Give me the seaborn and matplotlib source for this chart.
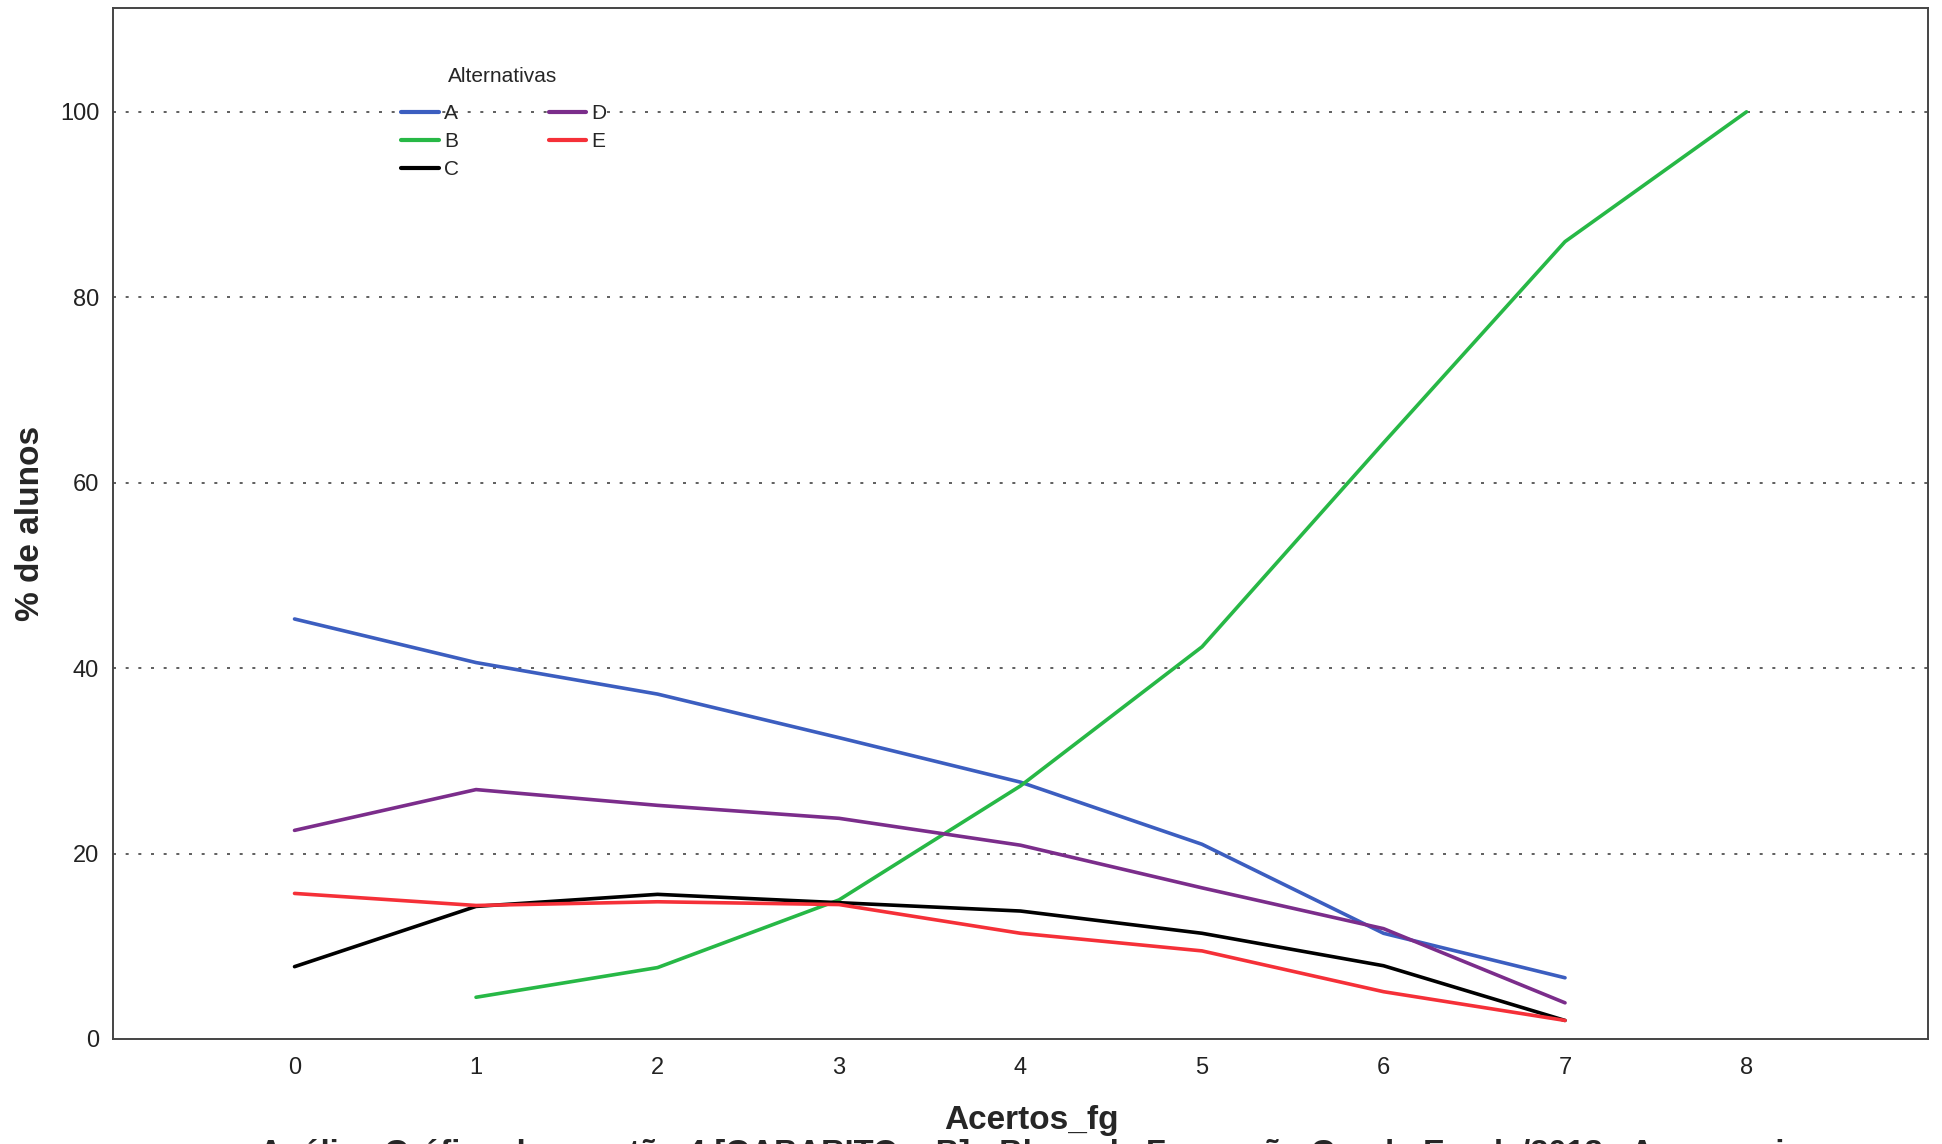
import pandas as pd
import matplotlib
matplotlib.use('Agg')
import matplotlib.pyplot as plt
import seaborn as sns

sns.set_style('white')
plt.rcParams['font.family'] = ['Liberation Sans', 'DejaVu Sans']

# Dados (% de alunos por número de acertos)
acertos = [0, 1, 2, 3, 4, 5, 6, 7, 8]
alt_a = [45.3, 40.6, 37.2, 32.5, 27.7, 21.0, 11.4, 6.6, None]
alt_b = [None, 4.5, 7.7, 15.0, 27.3, 42.3, 64.3, 86.0, 100.0]
alt_c = [7.8, 14.3, 15.6, 14.7, 13.8, 11.4, 7.9, 2.0, None]
alt_d = [22.5, 26.9, 25.2, 23.8, 20.9, 16.3, 11.9, 3.9, None]
alt_e = [15.7, 14.4, 14.8, 14.5, 11.4, 9.5, 5.1, 2.0, None]

alternativas = ['A', 'B', 'C', 'D', 'E']
cores = ['#3c5ec0', '#27b846', '#000000', '#7b2d8b', '#f53038']
yticks = [0, 20, 40, 60, 80, 100]

titulo = 'Análise Gráfica da questão 4 [GABARITO = B] - Bloco de Formação Geral - Enade/2018 - Agronomia'

# Monta tabela longa para o seaborn (ignora pontos sem valor)
rows = []
for alt, serie in zip(alternativas, [alt_a, alt_b, alt_c, alt_d, alt_e]):
    for x, v in zip(acertos, serie):
        if v is not None:
            rows.append({'Acertos_fg': x, 'pct': v, 'Alternativas': alt})
df = pd.DataFrame(rows)

fig = plt.figure(figsize=(19.42, 11.44), dpi=100)
ax = fig.add_axes([0.0582, 0.0918, 0.9346, 0.9012])

# Linhas de grade pontilhadas
for y in yticks[1:]:
    ax.axhline(y, color='#444444', lw=1.2, ls=(0, (1.8, 5.8)), zorder=0)

sns.lineplot(data=df, x='Acertos_fg', y='pct', hue='Alternativas',
             hue_order=alternativas, palette=dict(zip(alternativas, cores)),
             linewidth=2.6, errorbar=None, ax=ax)

ax.set_xlim(-1, 9)
ax.set_ylim(0, 111.2)
ax.set_xticks(acertos)
ax.set_yticks(yticks)
ax.tick_params(axis='both', direction='out', length=9, width=1.2,
               color='#333333', labelsize=17, labelcolor='#222222')
ax.tick_params(axis='x', pad=4)
ax.tick_params(axis='y', pad=1)
for s in ax.spines.values():
    s.set_color('#444444')
    s.set_linewidth(1.4)

ax.set_xlabel('Acertos_fg', fontsize=24, fontweight='bold')
ax.xaxis.set_label_coords(0.506, -0.064)
ax.set_ylabel('% de alunos', fontsize=24, fontweight='bold')
ax.yaxis.set_label_coords(-0.0367, 0.5)

# Legenda sem moldura, duas colunas; título escrito à parte
leg = ax.legend(ncol=2, frameon=False, fontsize=15,
                handlelength=1.8, handletextpad=0.25,
                columnspacing=4.3, labelspacing=0.42, borderpad=0,
                loc='upper left', bbox_to_anchor=(391 / 1942, 1 - 94 / 1144),
                bbox_transform=fig.transFigure)
for line in leg.get_lines():
    line.set_linewidth(3)
fig.text(503 / 1942, 1 - 76 / 1144, 'Alternativas', ha='center', va='center',
         fontsize=15)

# Título (cortado na borda inferior, como no original)
fig.text(0.531, 1 - 1139 / 1144, titulo, ha='center', va='top',
         fontsize=23.5, fontweight='bold')

fig.savefig('out.png', dpi=100)
